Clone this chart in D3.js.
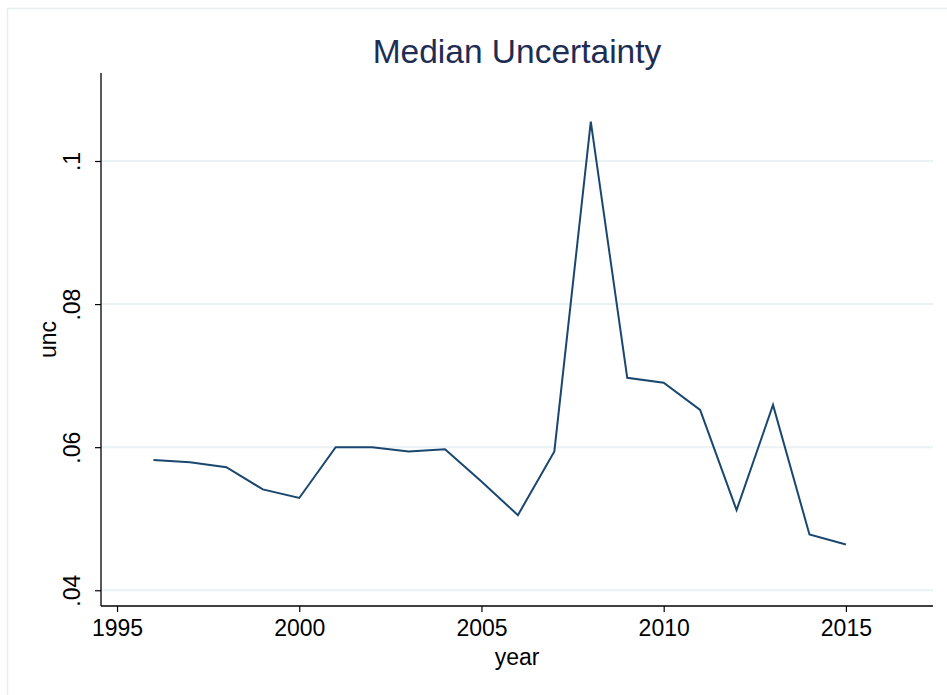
<!DOCTYPE html>
<html>
<head>
<meta charset="utf-8">
<script src="https://cdn.jsdelivr.net/npm/d3@7/dist/d3.min.js"></script>
<style>
  html, body { margin: 0; padding: 0; background: #ffffff; }
  svg { display: block; font-family: "Liberation Sans", Arial, Helvetica, sans-serif; }
</style>
</head>
<body>
<svg id="chart" width="947" height="695"></svg>
<script>
// Median uncertainty by year
const years = [1996, 1997, 1998, 1999, 2000, 2001, 2002, 2003, 2004, 2005,
               2006, 2007, 2008, 2009, 2010, 2011, 2012, 2013, 2014, 2015];
const unc = [0.0582, 0.0579, 0.0572, 0.0541, 0.0529, 0.0600, 0.0600, 0.0594, 0.0597, 0.0552,
             0.0505, 0.0594, 0.1055, 0.0697, 0.0690, 0.0652, 0.0512, 0.0659, 0.0478, 0.0464];
const xTicks = [1995, 2000, 2005, 2010, 2015];
const yTicks = [0.04, 0.06, 0.08, 0.1];
const yTickLabels = [".04", ".06", ".08", ".1"];

const svg = d3.select("#chart");
const W = 947, H = 695;
const plot = { left: 101, right: 933, top: 73, bottom: 606 };
const labelSize = "23px";

// outer graph-region frame
svg.append("rect")
  .attr("x", 7.5).attr("y", 8.5)
  .attr("width", W).attr("height", H)
  .attr("fill", "none")
  .attr("stroke", "#e6eff0")
  .attr("stroke-width", 1.5);

const x = d3.scaleLinear().domain([1994.56, 2017.39]).range([plot.left, plot.right]);
const y = d3.scaleLinear().domain([0.0378, 0.1123]).range([plot.bottom, plot.top]);

// horizontal grid lines
svg.append("g").selectAll("line")
  .data(yTicks)
  .join("line")
  .attr("x1", plot.left).attr("x2", plot.right)
  .attr("y1", d => y(d)).attr("y2", d => y(d))
  .attr("stroke", "#eaf2f3")
  .attr("stroke-width", 2);

// y axis
const yAxis = d3.axisLeft(y)
  .tickValues(yTicks)
  .tickFormat((d, i) => yTickLabels[i])
  .tickSize(6)
  .tickPadding(8)
  .tickSizeOuter(0);
const gy = svg.append("g")
  .attr("transform", `translate(${plot.left},0)`)
  .call(yAxis);
gy.select(".domain").attr("stroke", "#000").attr("stroke-width", 1.3)
  .attr("d", `M0,${plot.top}V${plot.bottom}`);
gy.selectAll(".tick line").attr("stroke", "#000").attr("stroke-width", 1.2);
gy.selectAll(".tick text")
  .attr("fill", "#000")
  .style("font-size", labelSize)
  .attr("text-anchor", "middle")
  .attr("x", null).attr("dy", null)
  .attr("transform", "translate(-21,0) rotate(-90)")
  .attr("y", 0);

// x axis
const xAxis = d3.axisBottom(x)
  .tickValues(xTicks)
  .tickFormat(d3.format("d"))
  .tickSize(6)
  .tickPadding(8)
  .tickSizeOuter(0);
const gx = svg.append("g")
  .attr("transform", `translate(0,${plot.bottom})`)
  .call(xAxis);
gx.select(".domain").attr("stroke", "#000").attr("stroke-width", 1.3)
  .attr("d", `M${plot.left},0H${plot.right}`);
gx.selectAll(".tick line").attr("stroke", "#000").attr("stroke-width", 1.2);
gx.selectAll(".tick text")
  .attr("fill", "#000")
  .style("font-size", labelSize);

// series line
const line = d3.line()
  .x((d, i) => x(years[i]))
  .y(d => y(d));
svg.append("path")
  .datum(unc)
  .attr("d", line)
  .attr("fill", "none")
  .attr("stroke", "#1a476f")
  .attr("stroke-width", 2)
  .attr("stroke-linejoin", "miter");

// axis titles
svg.append("text")
  .attr("x", (plot.left + plot.right) / 2)
  .attr("y", 665)
  .attr("text-anchor", "middle")
  .style("font-size", labelSize)
  .attr("fill", "#000")
  .text("year");

svg.append("text")
  .attr("transform", `translate(56,${(plot.top + plot.bottom) / 2}) rotate(-90)`)
  .attr("text-anchor", "middle")
  .style("font-size", labelSize)
  .attr("fill", "#000")
  .text("unc");

// chart title
svg.append("text")
  .attr("x", (plot.left + plot.right) / 2)
  .attr("y", 63)
  .attr("text-anchor", "middle")
  .style("font-size", "33.5px")
  .attr("fill", "#1e2d53")
  .text("Median Uncertainty");
</script>
</body>
</html>
